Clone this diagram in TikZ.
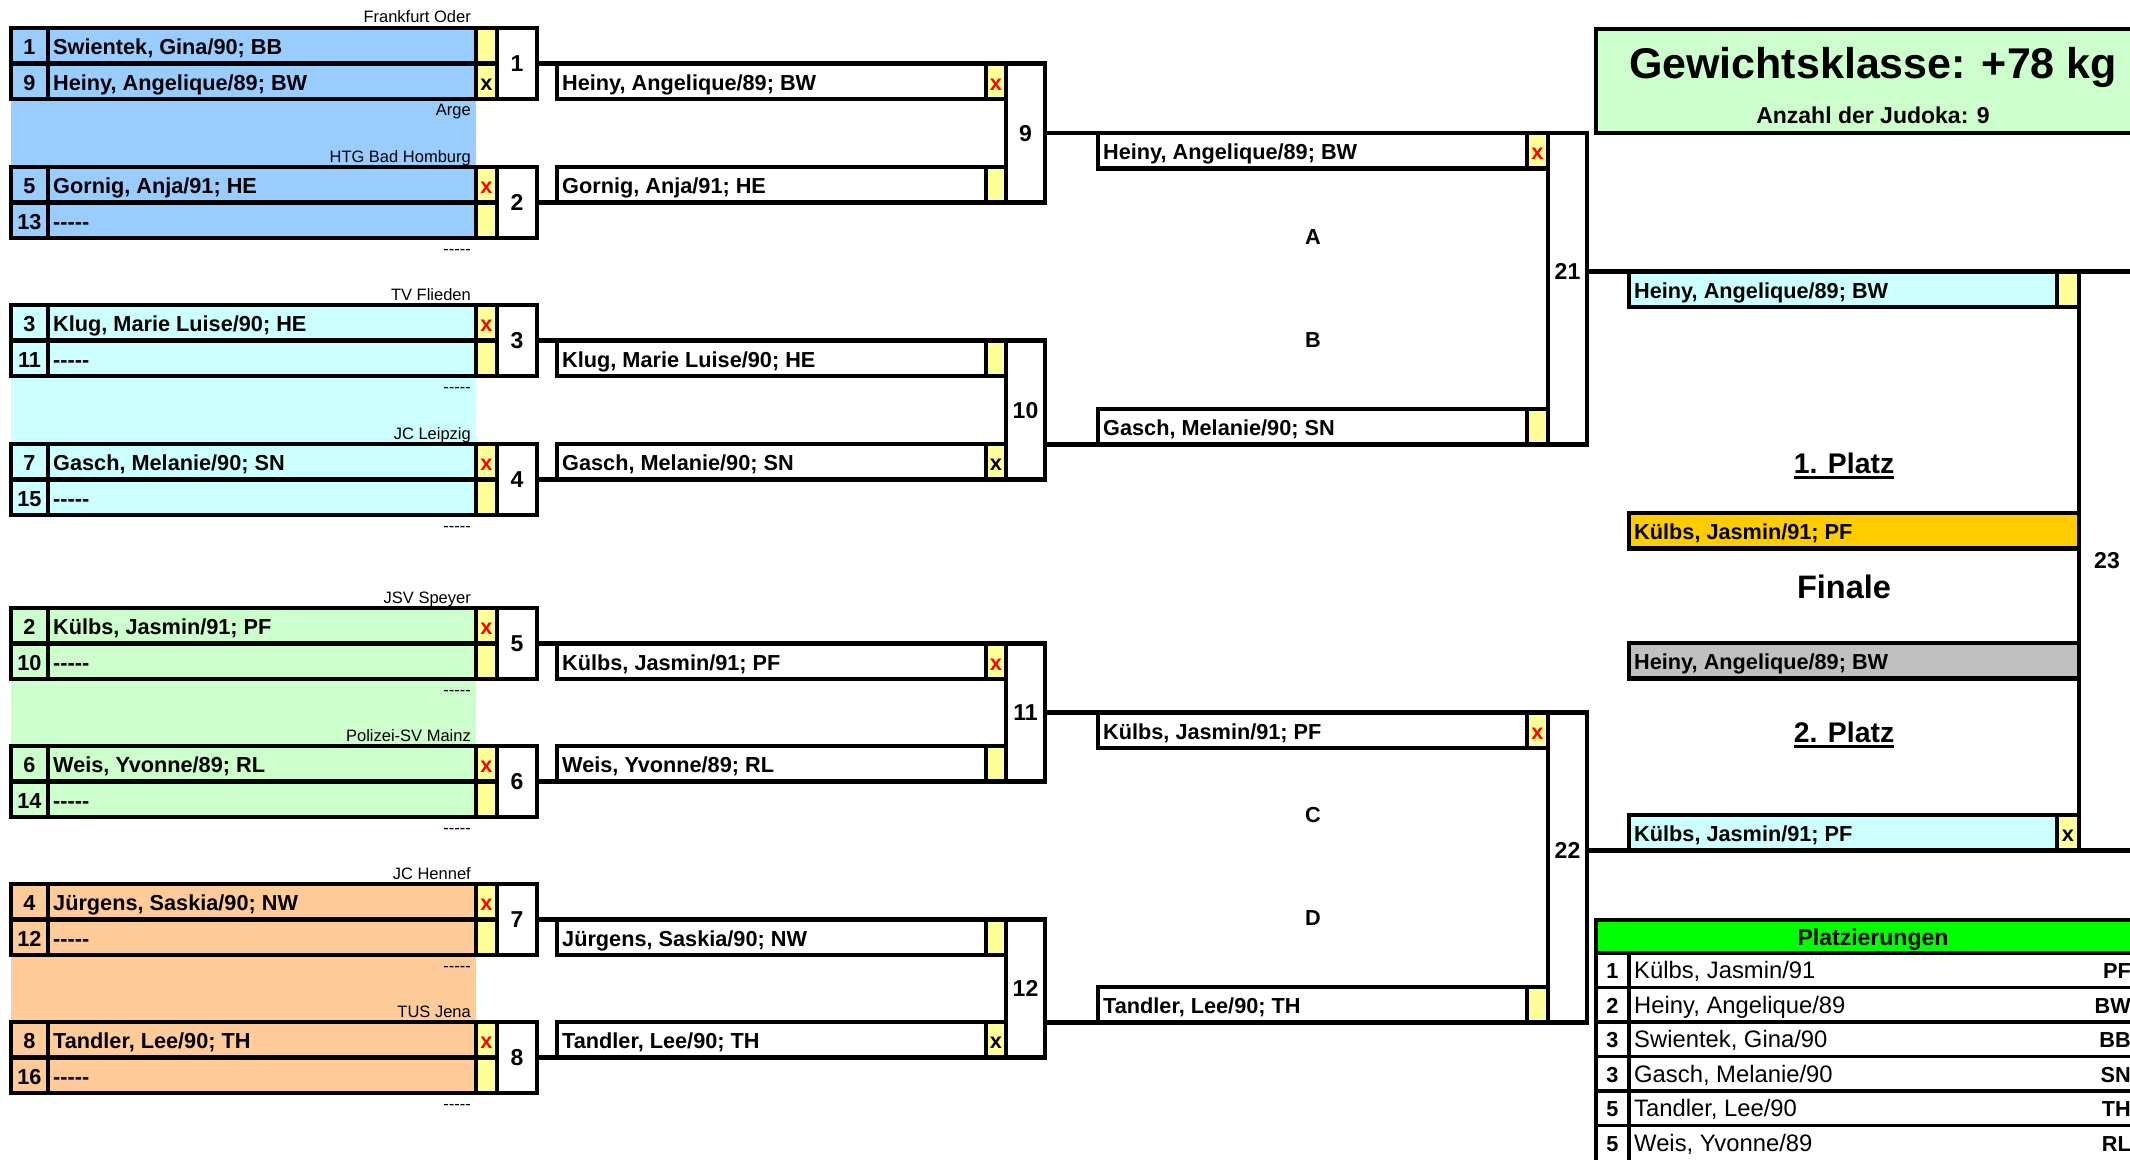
\documentclass[tikz,border=0pt]{standalone}
\usepackage{fontspec}
\setmainfont{Liberation Sans}
\definecolor{cblue}{HTML}{99CCFF}
\definecolor{ccyan}{HTML}{CCFFFF}
\definecolor{cgreen}{HTML}{CCFFCC}
\definecolor{corange}{HTML}{FFCC99}
\definecolor{ylw}{HTML}{FFFF99}
\definecolor{cgold}{HTML}{FFCC00}
\definecolor{cgray}{HTML}{C0C0C0}
\definecolor{hgreen}{HTML}{00FF00}
\definecolor{xred}{HTML}{FF0000}
\newcommand{\fN}{\fontsize{21.7}{26}\selectfont\bfseries}
\newcommand{\fM}{\fontsize{23}{27}\selectfont\bfseries}
\newcommand{\fC}{\fontsize{16.5}{20}\selectfont}
\newcommand{\fT}{\fontsize{23.8}{28}\selectfont}
\newcommand{\xr}{\textcolor{xred}{x}}
\newcommand{\dd}{-{}-{}-{}-{}-}
% entry row of round 1: id, ytop, number, name, mark, fill
\newcommand{\jEnt}[6]{%
  \fill[#6] (11,#2) rectangle (476,#2+35.5);
  \fill[ylw] (476,#2) rectangle (497,#2+35.5);
  \draw[ln] (11,#2) rectangle (497,#2+35.5) (48,#2) -- (48,#2+35.5) (476,#2) -- (476,#2+35.5);
  \node[ctr] (#1n) at (29.5,#2+26.5) {#3};
  \node[nm] (#1t) at (53,#2+26.5) {#4};
  \node[ctr] (#1x) at (486.5,#2+26.5) {#5};
}
% slot: id, xl, xyellow, xright, ytop, fill, name, mark
\newcommand{\jSlot}[8]{%
  \fill[#6] (#2,#5) rectangle (#3,#5+35.5);
  \fill[ylw] (#3,#5) rectangle (#4,#5+35.5);
  \draw[ln] (#2,#5) rectangle (#4,#5+35.5) (#3,#5) -- (#3,#5+35.5);
  \node[nm] (#1t) at (#2+5,#5+26.5) {#7};
  \node[ctr] (#1x) at ({(#3+#4)/2},#5+26.5) {#8};
  \coordinate (#1tl) at (#2,#5);
  \coordinate (#1bl) at (#2,#5+35.5);
}
% match number cell: id, xl, xr, ytop, ybot, ynum, number
\newcommand{\jCell}[7]{%
  \fill[white] (#2,#4) rectangle (#3,#5);
  \draw[ln] (#2,#4) rectangle (#3,#5);
  \node[mn] (#1) at ({(#2+#3)/2},#6+8.4) {#7};
}
\begin{document}
\begin{tikzpicture}[x=1pt,y=-1pt,
  ln/.style={line width=4.4pt},
  tl/.style={line width=3.2pt},
  nm/.style={anchor=base west,inner sep=0pt,font=\fN},
  ctr/.style={anchor=base,inner sep=0pt,font=\fN},
  mn/.style={anchor=base,inner sep=0pt,font=\fM},
  club/.style={anchor=base east,inner sep=0pt,font=\fC},
  tname/.style={anchor=base west,inner sep=0pt,font=\fT},
  tcode/.style={anchor=base east,inner sep=0pt,font=\fN},
  head/.style={anchor=base,inner sep=0pt}]
\useasboundingbox (0,0) rectangle (2130,1159);
\fill[white] (0,0) rectangle (2130,1159);
\clip (0,0) rectangle (2130,1159);

% group backgrounds
\fill[cblue] (11,28) rectangle (476,238);
\fill[ccyan] (11,305) rectangle (476,515);
\fill[cgreen] (11,608) rectangle (476,817);
\fill[corange] (11,884) rectangle (476,1093);

% round 1
\jEnt{e1}{28}{1}{Swientek, Gina/90; BB}{}{cblue}
\jEnt{e9}{63.5}{9}{Heiny, Angelique/89; BW}{x}{cblue}
\jCell{m1}{497}{537}{28}{99}{63.5}{1}
\jEnt{e5}{167}{5}{Gornig, Anja/91; HE}{\xr}{cblue}
\jEnt{e13}{202.5}{13}{\dd}{}{cblue}
\jCell{m2}{497}{537}{167}{238}{202.5}{2}
\jEnt{e3}{305}{3}{Klug, Marie Luise/90; HE}{\xr}{ccyan}
\jEnt{e11}{340.5}{11}{\dd}{}{ccyan}
\jCell{m3}{497}{537}{305}{376}{340.5}{3}
\jEnt{e7}{444}{7}{Gasch, Melanie/90; SN}{\xr}{ccyan}
\jEnt{e15}{479.5}{15}{\dd}{}{ccyan}
\jCell{m4}{497}{537}{444}{515}{479.5}{4}
\jEnt{e2}{608}{2}{Külbs, Jasmin/91; PF}{\xr}{cgreen}
\jEnt{e10}{643.5}{10}{\dd}{}{cgreen}
\jCell{m5}{497}{537}{608}{679}{643.5}{5}
\jEnt{e6}{746}{6}{Weis, Yvonne/89; RL}{\xr}{cgreen}
\jEnt{e14}{781.5}{14}{\dd}{}{cgreen}
\jCell{m6}{497}{537}{746}{817}{781.5}{6}
\jEnt{e4}{884}{4}{Jürgens, Saskia/90; NW}{\xr}{corange}
\jEnt{e12}{919.5}{12}{\dd}{}{corange}
\jCell{m7}{497}{537}{884}{955}{919.5}{7}
\jEnt{e8}{1022}{8}{Tandler, Lee/90; TH}{\xr}{corange}
\jEnt{e16}{1057.5}{16}{\dd}{}{corange}
\jCell{m8}{497}{537}{1022}{1093}{1057.5}{8}

% club labels
\node[club] (c1a) at (471,23) {Frankfurt Oder};
\node[club] (c1b) at (471,115) {Arge};
\node[club] (c2a) at (471,162) {HTG Bad Homburg};
\node[club] (c2b) at (471,254) {\dd};
\node[club] (c3a) at (471,300) {TV Flieden};
\node[club] (c3b) at (471,392) {\dd};
\node[club] (c4a) at (471,439) {JC Leipzig};
\node[club] (c4b) at (471,531) {\dd};
\node[club] (c5a) at (471,603) {JSV Speyer};
\node[club] (c5b) at (471,695) {\dd};
\node[club] (c6a) at (471,741) {Polizei-SV Mainz};
\node[club] (c6b) at (471,833) {\dd};
\node[club] (c7a) at (471,879) {JC Hennef};
\node[club] (c7b) at (471,971) {\dd};
\node[club] (c8a) at (471,1017) {TUS Jena};
\node[club] (c8b) at (471,1109) {\dd};

% round 2
\jSlot{r9a}{557}{986}{1006}{63.5}{white}{Heiny, Angelique/89; BW}{\xr}
\jSlot{r9b}{557}{986}{1006}{167}{white}{Gornig, Anja/91; HE}{}
\jCell{m9}{1006}{1045}{63.5}{202.5}{133}{9}
\jSlot{r10a}{557}{986}{1006}{340.5}{white}{Klug, Marie Luise/90; HE}{}
\jSlot{r10b}{557}{986}{1006}{444}{white}{Gasch, Melanie/90; SN}{x}
\jCell{m10}{1006}{1045}{340.5}{479.5}{410}{10}
\jSlot{r11a}{557}{986}{1006}{643.5}{white}{Külbs, Jasmin/91; PF}{\xr}
\jSlot{r11b}{557}{986}{1006}{746}{white}{Weis, Yvonne/89; RL}{}
\jCell{m11}{1006}{1045}{643.5}{781.5}{712.5}{11}
\jSlot{r12a}{557}{986}{1006}{919.5}{white}{Jürgens, Saskia/90; NW}{}
\jSlot{r12b}{557}{986}{1006}{1022}{white}{Tandler, Lee/90; TH}{x}
\jCell{m12}{1006}{1045}{919.5}{1057.5}{988.5}{12}

% round 3
\jSlot{r21a}{1098}{1527}{1548}{133}{white}{Heiny, Angelique/89; BW}{\xr}
\jSlot{r21b}{1098}{1527}{1548}{409}{white}{Gasch, Melanie/90; SN}{}
\jCell{m21}{1548}{1587}{133}{444.5}{271.5}{21}
\jSlot{r22a}{1098}{1527}{1548}{712.5}{white}{Külbs, Jasmin/91; PF}{\xr}
\jSlot{r22b}{1098}{1527}{1548}{987}{white}{Tandler, Lee/90; TH}{}
\jCell{m22}{1548}{1587}{712.5}{1022.5}{850.5}{22}
\node[ctr] (lA) at (1313,244) {A};
\node[ctr] (lB) at (1313,347) {B};
\node[ctr] (lC) at (1313,822) {C};
\node[ctr] (lD) at (1313,925) {D};

% final
\jSlot{fa}{1629}{2057}{2079}{271.5}{ccyan}{Heiny, Angelique/89; BW}{}
\jSlot{fd}{1629}{2057}{2079}{815}{ccyan}{Külbs, Jasmin/91; PF}{x}
\draw[ln,fill=cgold] (1629,513) rectangle (2079,548.5);
\node[nm] (fb) at (1634,539.5) {Külbs, Jasmin/91; PF};
\draw[ln,fill=cgray] (1629,643) rectangle (2079,678.5);
\node[nm] (fc) at (1634,669.5) {Heiny, Angelique/89; BW};
\coordinate (f23t) at (2079,271.5);
\coordinate (f23b) at (2079,850.5);
\coordinate (f23tr) at (2145,271.5);
\coordinate (f23br) at (2145,850.5);
\draw[ln] (f23tr) -- (f23t) -- (f23b) -- (f23br);
\node[mn] (m23) at (2107,568.5) {23};
\node[head,font=\fontsize{28.4}{32}\selectfont\bfseries] (p1) at (1844,473) {1. Platz};
\draw[line width=2.6pt] ([yshift=-4.5pt]p1.base west) -- ([yshift=-4.5pt]p1.base east);
\node[head,font=\fontsize{32.5}{36}\selectfont\bfseries] (fin) at (1844,598.5) {Finale};
\node[head,font=\fontsize{28.4}{32}\selectfont\bfseries] (p2) at (1844,742) {2. Platz};
\draw[line width=2.6pt] ([yshift=-4.5pt]p2.base west) -- ([yshift=-4.5pt]p2.base east);

% output coordinates and connectors
\coordinate (m1o) at (537,63.5);
\coordinate (m2o) at (537,202.5);
\coordinate (m3o) at (537,340.5);
\coordinate (m4o) at (537,479.5);
\coordinate (m5o) at (537,643.5);
\coordinate (m6o) at (537,781.5);
\coordinate (m7o) at (537,919.5);
\coordinate (m8o) at (537,1057.5);
\coordinate (m9o) at (1045,133);
\coordinate (m10o) at (1045,444.5);
\coordinate (m11o) at (1045,712.5);
\coordinate (m12o) at (1045,1022.5);
\coordinate (m21o) at (1587,271.5);
\coordinate (m22o) at (1587,850.5);
\draw[ln] (m1o) -- (r9atl);
\draw[ln] (m2o) -- (r9bbl);
\draw[ln] (m3o) -- (r10atl);
\draw[ln] (m4o) -- (r10bbl);
\draw[ln] (m5o) -- (r11atl);
\draw[ln] (m6o) -- (r11bbl);
\draw[ln] (m7o) -- (r12atl);
\draw[ln] (m8o) -- (r12bbl);
\draw[ln] (m9o) -- (r21atl);
\draw[ln] (m10o) -- (r21bbl);
\draw[ln] (m11o) -- (r22atl);
\draw[ln] (m12o) -- (r22bbl);
\draw[ln] (m21o) -- (fatl);
\draw[ln] (m22o) -- (fdbl);

% title
\draw[ln,fill=cgreen] (1596,29) rectangle (2145,133);
\node[head,font=\fontsize{43}{50}\selectfont\bfseries] (title) at (1873,78.5) {Gewichtsklasse: +78 kg};
\node[head,font=\fontsize{23}{27}\selectfont\bfseries] (count) at (1873,123) {Anzahl der Judoka: 9};

% Platzierungen table
\draw[ln,fill=hgreen] (1596,920) rectangle (2145,953);
\node[head,font=\fontsize{23}{27}\selectfont\bfseries] (ph) at (1873,945) {Platzierungen};
\draw[tl] (1596,987.5) -- (2145,987.5) (1596,1022) -- (2145,1022) (1596,1056.5) -- (2145,1056.5) (1596,1091) -- (2145,1091) (1596,1125.5) -- (2145,1125.5);
\draw[ln] (1596,953) -- (1596,1170) (1629,953) -- (1629,1170);
\node[ctr] (t1n) at (1612.5,978.75) {1};
\node[tname] (t1t) at (1634,978.75) {Külbs, Jasmin/91};
\node[tcode] (t1c) at (2131,978.75) {PF};
\node[ctr] (t2n) at (1612.5,1013.25) {2};
\node[tname] (t2t) at (1634,1013.25) {Heiny, Angelique/89};
\node[tcode] (t2c) at (2131,1013.25) {BW};
\node[ctr] (t3n) at (1612.5,1047.75) {3};
\node[tname] (t3t) at (1634,1047.75) {Swientek, Gina/90};
\node[tcode] (t3c) at (2131,1047.75) {BB};
\node[ctr] (t4n) at (1612.5,1082.25) {3};
\node[tname] (t4t) at (1634,1082.25) {Gasch, Melanie/90};
\node[tcode] (t4c) at (2131,1082.25) {SN};
\node[ctr] (t5n) at (1612.5,1116.75) {5};
\node[tname] (t5t) at (1634,1116.75) {Tandler, Lee/90};
\node[tcode] (t5c) at (2131,1116.75) {TH};
\node[ctr] (t6n) at (1612.5,1151.25) {5};
\node[tname] (t6t) at (1634,1151.25) {Weis, Yvonne/89};
\node[tcode] (t6c) at (2131,1151.25) {RL};
\end{tikzpicture}
\end{document}
